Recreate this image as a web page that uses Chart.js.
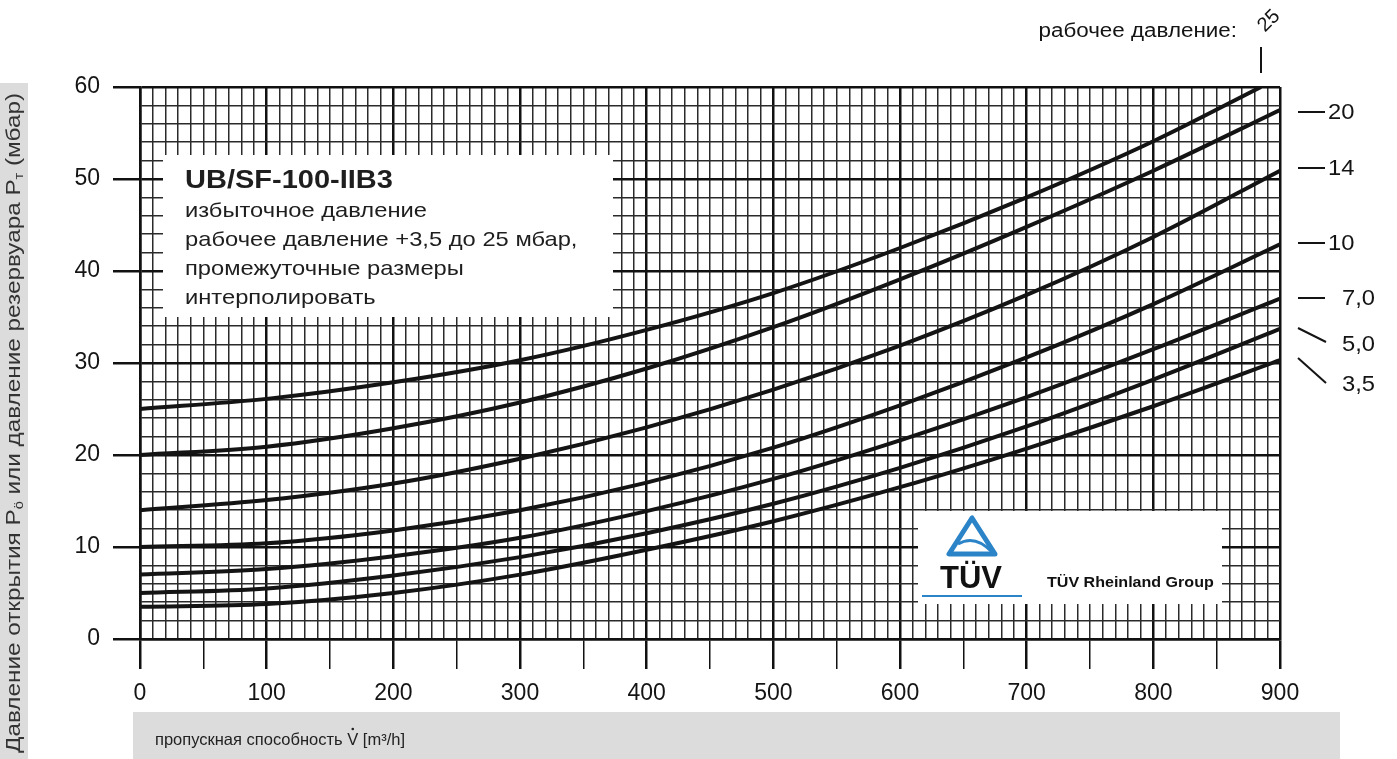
<!DOCTYPE html>
<html>
<head>
<meta charset="utf-8">
<script src="https://cdn.jsdelivr.net/npm/chart.js@4.4.1/dist/chart.umd.min.js"></script>
<style>
  html, body { margin: 0; padding: 0; background: #fff; }
  canvas { display: block; }
</style>
</head>
<body>
<canvas id="flowChart" width="1397" height="759"></canvas>
<script>
// расход, м3/ч
const flow = [0, 100, 200, 300, 400, 500, 600, 700, 800, 900];
const flowTop = [0, 100, 200, 300, 400, 500, 600, 700, 800, 885];

// давление открытия (мбар) для каждого рабочего давления
const p25 = [25, 26.1, 27.9, 30.3, 33.6, 37.6, 42.5, 48.0, 54.1, 60];
const p20 = [20, 20.9, 22.9, 25.7, 29.4, 33.9, 39.1, 44.8, 50.9, 57.5];
const p14 = [14, 15.1, 16.9, 19.6, 23.0, 27.1, 31.9, 37.4, 43.7, 50.9];
const p10 = [10, 10.4, 11.8, 14.0, 17.0, 20.8, 25.4, 30.6, 36.4, 42.9];
const p7 = [7, 7.6, 9.0, 11.0, 13.9, 17.4, 21.6, 26.3, 31.5, 37.0];
const p5 = [5, 5.5, 6.9, 8.9, 11.5, 14.7, 18.6, 23.1, 28.2, 33.7];
const p35 = [3.5, 3.8, 5.0, 7.0, 9.7, 12.8, 16.5, 20.7, 25.3, 30.3];

const seriesLabels = ['25', '20', '14', '10', '7,0', '5,0', '3,5'];
const xTicks = [0, 100, 200, 300, 400, 500, 600, 700, 800, 900];
const yTicks = [0, 10, 20, 30, 40, 50, 60];

const FONT = '"Liberation Sans", Arial, Helvetica, sans-serif';
const INK = '#141414';

function pts(xs, ys) {
  return xs.map((x, i) => ({x: x, y: ys[i]}));
}

function curve(label, xs, ys) {
  return {
    label: label,
    data: pts(xs, ys),
    borderColor: INK,
    borderWidth: 4,
    pointRadius: 0,
    cubicInterpolationMode: 'monotone',
    fill: false
  };
}

// текст с горизонтальным растяжением
function wideText(c, str, x, y, sx) {
  c.save();
  c.translate(x, y);
  c.scale(sx, 1);
  c.fillText(str, 0, 0);
  c.restore();
}

// оформление: серые подложки, текстовые блоки, подписи справа
const decor = {
  id: 'decor',
  beforeDraw(chart) {
    const c = chart.ctx;
    c.save();
    c.fillStyle = '#dcdcdc';
    c.fillRect(0, 83, 28, 676);
    c.fillRect(133, 712, 1207, 47);
    c.restore();
  },
  beforeDatasetsDraw(chart) {
    const c = chart.ctx;
    c.save();
    // блок с описанием
    c.fillStyle = '#fff';
    c.fillRect(163, 155, 450, 162);
    c.fillStyle = '#1e1e1e';
    c.textBaseline = 'middle';
    c.font = 'bold 25px ' + FONT;
    wideText(c, 'UB/SF-100-IIB3', 185, 181, 1.16);
    c.font = '21px ' + FONT;
    wideText(c, 'избыточное давление', 185, 211, 1.13);
    wideText(c, 'рабочее давление +3,5 до 25 мбар,', 185, 240, 1.13);
    wideText(c, 'промежуточные размеры', 185, 269, 1.13);
    wideText(c, 'интерполировать', 185, 298, 1.13);

    // логотип TÜV
    c.fillStyle = '#fff';
    c.fillRect(918, 511, 304, 93);
    c.strokeStyle = '#2c84c8';
    c.lineWidth = 5;
    c.lineJoin = 'round';
    c.beginPath();
    c.moveTo(972, 518);
    c.lineTo(949, 554);
    c.lineTo(995, 554);
    c.closePath();
    c.stroke();
    c.lineWidth = 3;
    c.beginPath();
    c.moveTo(958, 544);
    c.quadraticCurveTo(975, 534, 992, 552);
    c.stroke();
    c.fillStyle = '#111';
    c.font = 'bold 31px ' + FONT;
    c.textAlign = 'center';
    c.fillText('TÜV', 971, 579);
    c.fillStyle = '#2c84c8';
    c.fillRect(922, 595, 100, 2);
    c.fillStyle = '#111';
    c.textAlign = 'left';
    c.font = 'bold 15px ' + FONT;
    wideText(c, 'TÜV Rheinland Group', 1047, 583, 1.07);
    c.restore();
  },
  afterDraw(chart) {
    const c = chart.ctx;
    c.save();
    c.fillStyle = INK;
    c.strokeStyle = INK;
    c.textBaseline = 'middle';

    // подпись оси Y (вертикально, с индексами)
    c.save();
    c.translate(14, 423);
    c.rotate(-Math.PI / 2);
    const parts = [
      ['Давление открытия P', 0], ['ö', 1], [' или давление резервуара P', 0], ['т', 1], [' (мбар)', 0]
    ];
    const big = '20px ' + FONT, small = '12px ' + FONT;
    let total = 0;
    parts.forEach(p => { c.font = p[1] ? small : big; total += c.measureText(p[0]).width; });
    const sx = 660 / total;
    c.scale(sx, 1);
    let x = -total / 2;
    c.fillStyle = '#333';
    parts.forEach(p => {
      c.font = p[1] ? small : big;
      c.fillText(p[0], x, p[1] ? 6 : 0);
      x += c.measureText(p[0]).width;
    });
    c.restore();

    // подпись оси X
    c.fillStyle = '#222';
    c.font = '16.5px ' + FONT;
    c.fillText('пропускная способность V [m³/h]', 155, 740);
    // точка над V
    const vx = 155 + c.measureText('пропускная способность ').width + c.measureText('V').width / 2;
    c.beginPath();
    c.arc(vx, 729, 1.3, 0, Math.PI * 2);
    c.fill();

    // рабочее давление справа
    c.fillStyle = INK;
    c.font = '20px ' + FONT;
    c.textAlign = 'right';
    wideText(c, 'рабочее давление:', 1237, 31, 1.12);
    c.textAlign = 'left';
    c.save();
    c.translate(1269, 21);
    c.rotate(-Math.PI / 4);
    c.textAlign = 'center';
    c.fillText(seriesLabels[0], 0, 0);
    c.restore();

    c.lineWidth = 2;
    c.beginPath();
    c.moveTo(1261, 47); c.lineTo(1261, 73);
    c.stroke();

    c.font = '22px ' + FONT;
    const marks = [
      [seriesLabels[1], 112, 1328, 0],
      [seriesLabels[2], 168, 1328, 0],
      [seriesLabels[3], 243, 1328, 0],
      [seriesLabels[4], 298, 1342, 0],
      [seriesLabels[5], 344, 1342, 1],
      [seriesLabels[6], 384, 1342, 2]
    ];
    marks.forEach(m => {
      c.beginPath();
      if (m[3] === 0) {
        c.moveTo(1298, m[1]); c.lineTo(1325, m[1]);
      } else if (m[3] === 1) {
        c.moveTo(1298, 328); c.lineTo(1326, 342);
      } else {
        c.moveTo(1298, 358); c.lineTo(1326, 383);
      }
      c.stroke();
      wideText(c, m[0], m[2], m[1] + 1, 1.08);
    });
    c.restore();
  }
};

const ctx = document.getElementById('flowChart');
new Chart(ctx, {
  type: 'line',
  data: {
    datasets: [
      curve(seriesLabels[0], flowTop, p25),
      curve(seriesLabels[1], flow, p20),
      curve(seriesLabels[2], flow, p14),
      curve(seriesLabels[3], flow, p10),
      curve(seriesLabels[4], flow, p7),
      curve(seriesLabels[5], flow, p5),
      curve(seriesLabels[6], flow, p35)
    ]
  },
  options: {
    responsive: false,
    animation: false,
    layout: {padding: {top: 87, right: 117, left: 0, bottom: 0}},
    plugins: {legend: {display: false}, tooltip: {enabled: false}},
    scales: {
      x: {
        type: 'linear',
        min: 0,
        max: 900,
        ticks: {
          stepSize: 10,
          autoSkip: false,
          maxRotation: 0,
          padding: 11,
          color: INK,
          font: {family: FONT, size: 23},
          callback: v => xTicks.includes(v) ? String(v) : ''
        },
        grid: {
          color: c => c.tick && c.tick.value % 100 === 0 ? '#111' : '#2a2a2a',
          lineWidth: c => c.tick && c.tick.value % 100 === 0 ? 2.5 : 1.5,
          tickColor: c => c.tick && c.tick.value % 50 === 0 ? '#111' : 'rgba(0,0,0,0)',
          tickWidth: c => c.tick && c.tick.value % 100 === 0 ? 2.5 : 1.5,
          tickLength: 30
        },
        border: {color: '#111', width: 2.5},
        afterFit(s) { s.height = 120; }
      },
      y: {
        min: 0,
        max: 60,
        ticks: {
          stepSize: 2,
          autoSkip: false,
          padding: 13,
          color: INK,
          font: {family: FONT, size: 23},
          callback: v => yTicks.includes(v) ? String(v) : ''
        },
        grid: {
          color: c => c.tick && c.tick.value % 10 === 0 ? '#111' : '#2a2a2a',
          lineWidth: c => c.tick && c.tick.value % 10 === 0 ? 2.5 : 1.5,
          tickColor: c => c.tick && c.tick.value % 10 === 0 ? '#111' : 'rgba(0,0,0,0)',
          tickWidth: 2.5,
          tickLength: 27
        },
        border: {color: '#111', width: 2.5},
        afterFit(s) { s.width = 140; }
      }
    }
  },
  plugins: [decor]
});
</script>
</body>
</html>
